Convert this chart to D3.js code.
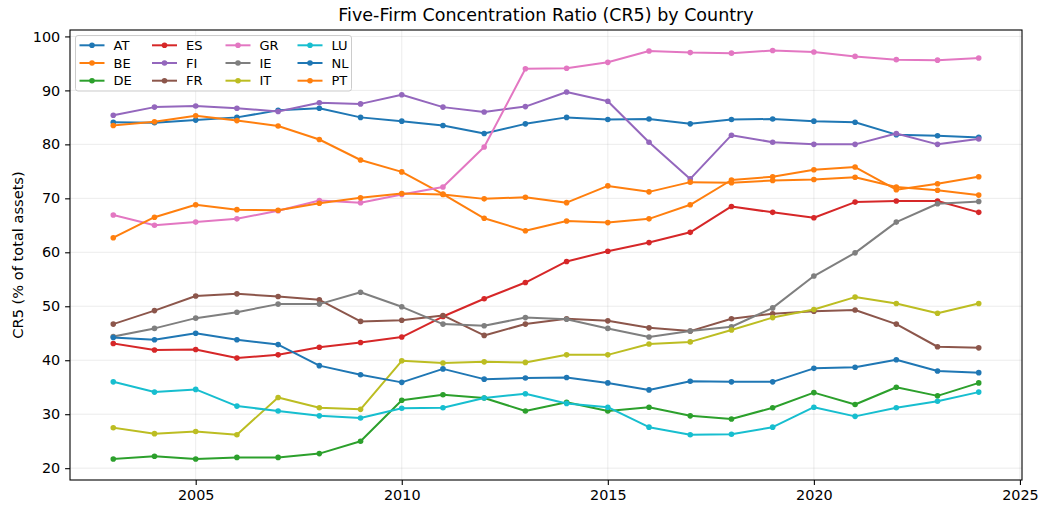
<!DOCTYPE html>
<html>
<head>
<meta charset="utf-8">
<script src="https://cdn.jsdelivr.net/npm/d3@7"></script>
<style>
  html, body { margin: 0; padding: 0; background: #fff; }
  svg { display: block; font-family: "DejaVu Sans", sans-serif; }
</style>
</head>
<body>
<svg id="chart" width="1042" height="506"></svg>
<script>
const years = [2003,2004,2005,2006,2007,2008,2009,2010,2011,2012,2013,2014,2015,2016,2017,2018,2019,2020,2021,2022,2023,2024];
const countries = ["AT","BE","DE","ES","FI","FR","GR","IE","IT","LU","NL","PT"];
const AT = [84.1,84.0,84.5,85.0,86.3,86.7,85.0,84.3,83.5,82.0,83.8,85.0,84.6,84.7,83.8,84.6,84.7,84.3,84.1,81.8,81.6,81.3];
const BE = [83.5,84.2,85.3,84.4,83.4,80.9,77.1,74.9,70.8,66.3,64.0,65.8,65.5,66.2,68.8,73.4,74.0,75.3,75.8,71.6,72.7,74.0];
const DE = [21.7,22.2,21.7,22.0,22.0,22.7,25.0,32.6,33.6,33.0,30.6,32.2,30.6,31.3,29.7,29.1,31.2,34.0,31.8,35.0,33.4,35.8];
const ES = [43.1,41.9,42.0,40.4,41.0,42.4,43.3,44.3,48.1,51.4,54.4,58.3,60.2,61.8,63.7,68.5,67.4,66.4,69.3,69.5,69.5,67.4];
const FI = [85.4,86.9,87.1,86.7,86.1,87.7,87.5,89.2,86.9,86.0,87.0,89.7,88.0,80.4,73.6,81.7,80.4,80.0,80.0,82.0,80.0,81.0];
const FR = [46.7,49.2,51.9,52.3,51.8,51.2,47.2,47.4,48.3,44.6,46.7,47.7,47.3,46.0,45.4,47.7,48.6,49.1,49.3,46.7,42.5,42.3];
const GR = [66.9,65.0,65.6,66.2,67.7,69.6,69.2,70.7,72.1,79.5,94.0,94.1,95.2,97.3,97.0,96.9,97.4,97.1,96.3,95.7,95.6,96.0];
const IE = [44.4,45.9,47.8,48.9,50.4,50.4,52.6,49.9,46.7,46.4,47.9,47.6,45.9,44.3,45.4,46.2,49.7,55.6,59.9,65.6,69.0,69.4];
const IT = [27.5,26.4,26.8,26.2,33.1,31.2,30.9,39.9,39.5,39.7,39.6,41.0,41.0,43.0,43.4,45.6,47.9,49.4,51.7,50.5,48.7,50.5];
const LU = [36.0,34.1,34.6,31.5,30.6,29.7,29.3,31.1,31.2,33.0,33.8,32.0,31.3,27.6,26.2,26.3,27.6,31.3,29.6,31.2,32.4,34.1];
const NL = [44.2,43.8,45.0,43.8,42.9,39.0,37.3,35.9,38.4,36.5,36.7,36.8,35.8,34.5,36.1,36.0,36.0,38.5,38.7,40.1,38.0,37.7];
const PT = [62.7,66.5,68.8,67.9,67.8,69.1,70.1,70.9,70.7,69.9,70.2,69.2,72.3,71.2,73.0,72.9,73.3,73.5,73.9,72.1,71.5,70.6];
const seriesValues = [AT,BE,DE,ES,FI,FR,GR,IE,IT,LU,NL,PT];
const xTicks = [2005,2010,2015,2020,2025];
const yTicks = [20,30,40,50,60,70,80,90,100];
const titleText = "Five-Firm Concentration Ratio (CR5) by Country";
const yLabel = "CR5 (% of total assets)";

const palette = ["#1f77b4","#ff7f0e","#2ca02c","#d62728","#9467bd","#8c564b","#e377c2","#7f7f7f","#bcbd22","#17becf"];
const color = (i) => palette[i % palette.length];

const svg = d3.select("#chart");
const L = 70, R = 1022, T = 30, B = 480;

const x = d3.scaleLinear().domain([2001.95, 2025.05]).range([L, R]);
const y = d3.scaleLinear().domain([17.81, 101.19]).range([B, T]);

// grid
const grid = svg.append("g");
grid.selectAll(".gx").data(xTicks).join("line")
  .attr("x1", d => x(d)).attr("x2", d => x(d)).attr("y1", T).attr("y2", B)
  .attr("stroke", "#b0b0b0").attr("stroke-opacity", 0.3).attr("stroke-width", 0.8);
grid.selectAll(".gy").data(yTicks).join("line")
  .attr("x1", L).attr("x2", R).attr("y1", d => y(d)).attr("y2", d => y(d))
  .attr("stroke", "#b0b0b0").attr("stroke-opacity", 0.3).attr("stroke-width", 0.8);

// series
const line = d3.line().x((d, i) => x(years[i])).y(d => y(d));
const plot = svg.append("g");
seriesValues.forEach((vals, k) => {
  const g = plot.append("g");
  g.append("path").datum(vals).attr("d", line)
    .attr("fill", "none").attr("stroke", color(k)).attr("stroke-width", 2)
    .attr("stroke-linejoin", "round").attr("stroke-linecap", "square");
  g.selectAll("circle").data(vals).join("circle")
    .attr("cx", (d, i) => x(years[i])).attr("cy", d => y(d)).attr("r", 2.8)
    .attr("fill", color(k));
});

// axes
const xAxis = d3.axisBottom(x).tickValues(xTicks).tickFormat(d3.format("d")).tickSize(4.9).tickPadding(4.9);
const yAxis = d3.axisLeft(y).tickValues(yTicks).tickFormat(d3.format("d")).tickSize(4.9).tickPadding(4.9);
const gx = svg.append("g").attr("transform", `translate(0,${B})`).call(xAxis);
const gy = svg.append("g").attr("transform", `translate(${L},0)`).call(yAxis);
[gx, gy].forEach(g => {
  g.select(".domain").remove();
  g.selectAll(".tick line").attr("stroke", "#000").attr("stroke-width", 1.1);
  g.selectAll(".tick text").attr("fill", "#000").style("font-size", "14.4px").style("font-family", "DejaVu Sans");
});

// frame
svg.append("rect").attr("x", L).attr("y", T).attr("width", R - L).attr("height", B - T)
  .attr("fill", "none").attr("stroke", "#000").attr("stroke-width", 1.1);

// title
svg.append("text").attr("x", (L + R) / 2).attr("y", 21).attr("text-anchor", "middle")
  .style("font-size", "17.5px").attr("fill", "#000").text(titleText);

// y label
svg.append("text").attr("transform", `translate(23,${(T + B) / 2}) rotate(-90)`)
  .attr("text-anchor", "middle").style("font-size", "14.6px").attr("fill", "#000").text(yLabel);

// legend
const leg = svg.append("g");
leg.append("rect").attr("x", 75.5).attr("y", 35.5).attr("width", 276).attr("height", 55.5)
  .attr("rx", 2.5).attr("fill", "#fff").attr("fill-opacity", 0.8)
  .attr("stroke", "#cccccc").attr("stroke-width", 1);
const colX = [79.5, 152, 225.5, 297.5];
const rowY = [45.3, 63, 80.7];
countries.forEach((c, k) => {
  const col = Math.floor(k / 3), row = k % 3;
  const lx = colX[col], ly = rowY[row];
  leg.append("line").attr("x1", lx).attr("x2", lx + 25).attr("y1", ly).attr("y2", ly)
    .attr("stroke", color(k)).attr("stroke-width", 2);
  leg.append("circle").attr("cx", lx + 12.5).attr("cy", ly).attr("r", 2.8).attr("fill", color(k));
  leg.append("text").attr("x", lx + 34).attr("y", ly).attr("dy", "0.36em")
    .style("font-size", "13px").attr("fill", "#000").text(c);
});
</script>
</body>
</html>
